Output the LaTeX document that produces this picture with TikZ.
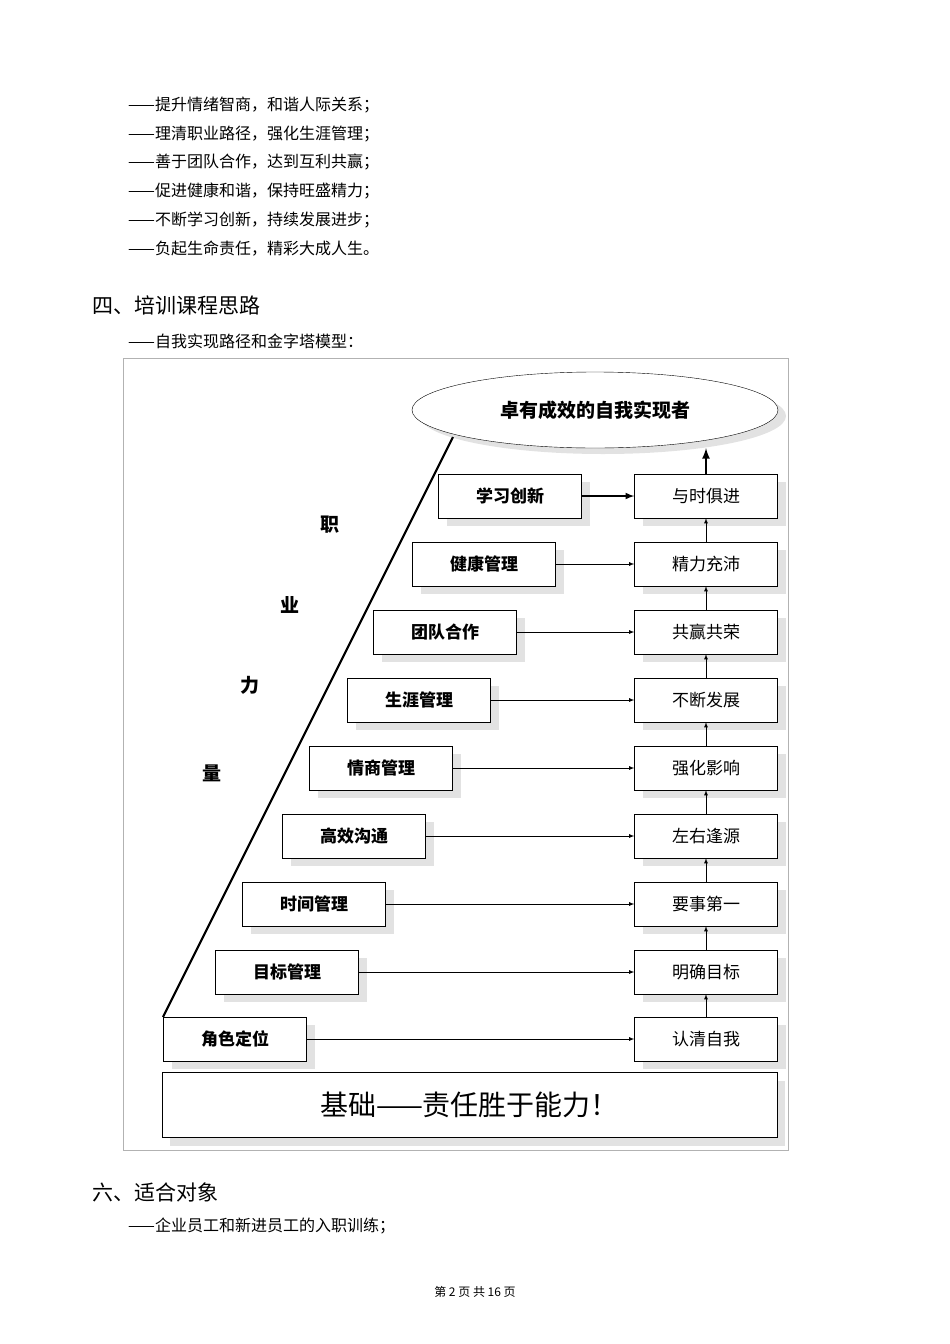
\documentclass[tikz,border=0pt]{standalone}
\usepackage{fontspec}
\newfontfamily\cjk{Noto Sans CJK SC}
\usetikzlibrary{shadows,shapes.geometric}
\tikzset{
  page/.style={cjk text, anchor=west, font=\cjk\fontsize{16}{16}\selectfont},
  cjk text/.style={inner sep=0pt},
  head/.style={anchor=west, inner sep=0pt, font=\cjk\fontsize{21}{21}\selectfont},
  stepbox/.style={draw, fill=white, thin, minimum width=143pt, minimum height=44pt,
    font=\cjk\bfseries\fontsize{17}{17}\selectfont,
    drop shadow={shadow xshift=8pt, shadow yshift=-8pt, fill=gray!45}},
  goalbox/.style={stepbox, font=\cjk\fontsize{17}{17}\selectfont},
  vchar/.style={font=\cjk\bfseries\fontsize{19}{19}\selectfont}
}
\begin{document}
\begin{tikzpicture}[x=1pt, y=-1pt]
  \useasboundingbox (0,0) rectangle (950,1344);
  % 正文
  \foreach \t [count=\i] in {提升情绪智商，和谐人际关系；, 理清职业路径，强化生涯管理；,
      善于团队合作，达到互利共赢；, 促进健康和谐，保持旺盛精力；,
      不断学习创新，持续发展进步；, 负起生命责任，精彩大成人生。}
    \node[page] (line\i) at (128, 76+28.8*\i) {——\t};
  \node[head] (head4) at (92, 305) {四、培训课程思路};
  \node[page] (intro) at (128, 341) {——自我实现路径和金字塔模型：};

  % 外框
  \draw[gray!60] (123,358) rectangle (788,1150);

  % 顶部椭圆
  \node[ellipse, draw, fill=white, minimum width=366pt, minimum height=76pt,
    font=\cjk\bfseries\fontsize{19}{19}\selectfont,
    drop shadow={shadow xshift=8pt, shadow yshift=-6pt, fill=gray!45}]
    (goal) at (595,410) {卓有成效的自我实现者};

  % 左右两列方框
  \foreach \lx/\y/\lt/\rt [count=\i] in {
      235/1039/角色定位/认清自我, 287/972/目标管理/明确目标,
      314/904/时间管理/要事第一, 354/836/高效沟通/左右逢源,
      381/768/情商管理/强化影响, 419/700/生涯管理/不断发展,
      445/632/团队合作/共赢共荣, 484/564/健康管理/精力充沛,
      510/496/学习创新/与时俱进} {
    \node[stepbox] (L\i) at (\lx,\y) {\lt};
    \node[goalbox] (R\i) at (706,\y) {\rt};
  }

  % 横向箭头
  \foreach \i in {1,...,8}
    \draw[thick, -latex] (L\i) -- (R\i);
  \draw[line width=2pt, -latex] (L9) -- (R9);
  % 纵向箭头
  \foreach \i [evaluate=\i as \j using int(\i+1)] in {1,...,8}
    \draw[thick, -latex] (R\i) -- (R\j);
  \draw[line width=2.5pt, -latex] (R9) -- (goal.south -| R9);

  % 基础
  \node[stepbox, minimum width=615pt, minimum height=65pt,
    font=\cjk\fontsize{28}{28}\selectfont] (base) at (469.5,1105) {基础——责任胜于能力！};

  % 斜线与竖排文字
  \coordinate (foot) at (163,1017);
  \coordinate (top) at (453,437);
  \draw[line width=2.2pt] (foot) -- (top);
  \node[vchar] (c1) at (330,525) {职};
  \node[vchar] (c2) at (290,605) {业};
  \node[vchar] (c3) at (250,685) {力};
  \node[vchar] (c4) at (212,773) {量};

  % 后续正文
  \node[head] (head6) at (92,1192) {六、适合对象};
  \node[page] (target) at (128,1226) {——企业员工和新进员工的入职训练；};
  \node[font=\cjk\fontsize{12}{12}\selectfont] (foot page) at (475,1292) {第 2 页 共 16 页};
\end{tikzpicture}
\end{document}
